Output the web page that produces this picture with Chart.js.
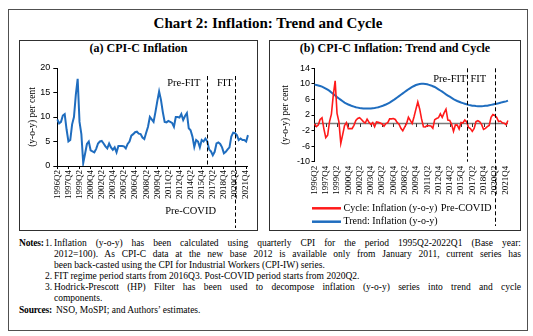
<!DOCTYPE html>
<html>
<head>
<meta charset="utf-8">
<script src="https://cdn.jsdelivr.net/npm/chart.js@4.4.1/dist/chart.umd.min.js"></script>
<style>
  html, body { margin:0; padding:0; background:#fff; }
  body { width:533px; height:336px; position:relative; overflow:hidden;
         font-family:"Liberation Serif","Times New Roman",serif; color:#000; }
  .abs { position:absolute; }
  #frame { left:8px; top:9px; width:520px; height:322px; border:1px solid #505050; box-sizing:border-box; }
  #title { left:8px; top:14px; width:520px; text-align:center; font-weight:bold; font-size:15px; line-height:18px; }
  .panel { top:40px; height:191px; border:1px solid #303030; box-sizing:border-box; }
  #panelA { left:19px; width:239px; }
  #panelB { left:269px; width:252px; }
  .ptitle { top:41px; font-weight:bold; font-size:12px; line-height:14px; text-align:center; }
  #ptitleA { left:19px; width:239px; }
  #ptitleB { left:269px; width:252px; }
  canvas { position:absolute; }
  #notes { left:19px; top:238px; width:502px; font-size:9.5px; line-height:11.1px; }
  .ln { position:relative; height:11.1px; }
  .ln .lab { position:absolute; left:0; top:0; font-weight:bold; white-space:nowrap; letter-spacing:-0.2px; }
  .ln .num { position:absolute; left:26px; top:0; }
  .ln .txt { position:absolute; left:35px; top:0; width:467px; white-space:nowrap; }
  .ln .just { white-space:normal; text-align:justify; text-align-last:justify; }
</style>
</head>
<body>
<div id="frame" class="abs"></div>
<div id="title" class="abs">Chart 2: Inflation: Trend and Cycle</div>

<div id="panelA" class="abs panel"></div>
<div id="panelB" class="abs panel"></div>
<div id="ptitleA" class="abs ptitle">(a) CPI-C Inflation</div>
<div id="ptitleB" class="abs ptitle">(b) CPI-C Inflation: Trend and Cycle</div>

<canvas id="chartA" width="239" height="190" style="left:19px;top:41px;width:239px;height:190px"></canvas>
<canvas id="chartB" width="252" height="190" style="left:269px;top:41px;width:252px;height:190px"></canvas>

<div id="notes" class="abs">
  <div class="ln"><span class="lab">Notes:</span><span class="num">1.</span><span class="txt just">Inflation (y-o-y) has been calculated using quarterly CPI for the period 1995Q2-2022Q1 (Base year:</span></div>
  <div class="ln"><span class="txt just">2012=100). As CPI-C data at the new base 2012 is available only from January 2011, current series has</span></div>
  <div class="ln"><span class="txt">been back-casted using the CPI for Industrial Workers (CPI-IW) series.</span></div>
  <div class="ln"><span class="num">2.</span><span class="txt">FIT regime period starts from 2016Q3. Post-COVID period starts from 2020Q2.</span></div>
  <div class="ln"><span class="num">3.</span><span class="txt just">Hodrick-Prescott (HP) Filter has been used to decompose inflation (y-o-y) series into trend and cycle</span></div>
  <div class="ln"><span class="txt">components.</span></div>
  <div class="ln"><span class="lab">Sources:</span><span class="txt" style="left:37px">NSO, MoSPI; and Authors’ estimates.</span></div>
</div>

<script>
// Quarterly periods, 1996Q2 to 2022Q1
const quarters = [];
for (let yr = 1996; yr <= 2022; yr++) {
  for (let q = 1; q <= 4; q++) {
    if ((yr === 1996 && q < 2) || (yr === 2022 && q > 1)) continue;
    quarters.push(yr + 'Q' + q);
  }
}

// Labels shown on the x axes
const tickLabels = ['1996Q2','1997Q4','1999Q2','2000Q4','2002Q2','2003Q4','2005Q2','2006Q4',
  '2008Q2','2009Q4','2011Q2','2012Q4','2014Q2','2015Q4','2017Q2','2018Q4','2020Q2','2021Q4'];

// Regime boundaries
const FIT_START = '2016Q3';
const COVID_START = '2020Q2';

// CPI-C inflation, y-o-y per cent
const cpiInflation = [
  9.5, 8.7, 9.0, 10.3, 10.6, 7.5, 5.0, 5.3, 8.5, 10.0,
  14.5, 17.8, 9.0, 6.5, 0.6, 2.5, 4.5, 5.0, 3.2, 3.0,
  2.8, 3.5, 4.6, 5.0, 5.1, 4.6, 4.0, 3.6, 4.6, 3.8,
  3.3, 3.8, 2.8, 4.1, 4.1, 4.1, 4.0, 3.6, 4.5, 5.0,
  6.2, 6.5, 6.9, 7.0, 6.6, 6.5, 5.8, 5.5, 6.8, 8.0,
  10.0, 9.5, 9.0, 11.0, 13.2, 15.2, 13.5, 11.0, 9.0, 8.9,
  9.2, 9.0, 8.8, 8.0, 10.0, 10.0, 9.9, 10.6, 9.4, 10.2,
  10.8, 7.7, 7.3, 6.0, 3.9, 5.3, 5.0, 3.8, 5.3, 5.0,
  5.6, 5.0, 3.4, 3.0, 2.2, 2.9, 4.6, 4.8, 4.5, 3.8,
  2.6, 2.9, 3.4, 3.8, 6.0, 6.8, 6.7, 6.3, 5.3, 5.6,
  5.3, 5.3, 5.0, 6.3
];

// HP-filter trend of inflation
const trendInflation = [
  9.8, 9.7, 9.6, 9.45, 9.3, 9.05, 8.8, 8.5, 8.2, 7.8,
  7.4, 7.0, 6.6, 6.25, 5.9, 5.55, 5.2, 4.95, 4.7, 4.5,
  4.3, 4.15, 4.0, 3.9, 3.8, 3.75, 3.7, 3.67, 3.65, 3.67,
  3.7, 3.75, 3.8, 3.9, 4.0, 4.15, 4.3, 4.5, 4.7, 4.95,
  5.2, 5.5, 5.8, 6.15, 6.5, 6.85, 7.2, 7.55, 7.9, 8.25,
  8.6, 8.9, 9.2, 9.45, 9.7, 9.85, 9.95, 10.0, 10.0, 9.97,
  9.9, 9.75, 9.6, 9.4, 9.2, 8.9, 8.6, 8.3, 8.0, 7.65,
  7.3, 7.0, 6.7, 6.4, 6.1, 5.85, 5.6, 5.4, 5.2, 5.05,
  4.9, 4.75, 4.6, 4.5, 4.4, 4.35, 4.3, 4.27, 4.25, 4.27,
  4.3, 4.35, 4.4, 4.5, 4.6, 4.7, 4.8, 4.9, 5.0, 5.15,
  5.3, 5.4, 5.5, 5.7
];

// HP-filter cycle of inflation
const cycleInflation = [
  -0.3, -1.0, -0.6, 0.85, 1.3, -1.55, -3.8, -3.2, 0.3, 2.2,
  7.1, 10.8, 2.4, 0.25, -5.3, -3.05, -0.7, 0.05, -1.5, -1.5,
  -1.5, -0.65, 0.6, 1.1, 1.3, 0.85, 0.3, -0.07, 0.95, 0.13,
  -0.4, 0.05, -1.0, 0.2, 0.1, -0.05, -0.3, -0.9, -0.2, 0.05,
  1.0, 1.0, 1.1, 0.85, 0.1, -0.35, -1.4, -2.05, -1.1, -0.25,
  1.4, 0.6, -0.2, 1.55, 3.5, 5.35, 3.55, 1.0, -1.0, -1.07,
  -0.7, -0.75, -0.8, -1.4, 0.8, 1.1, 1.3, 2.3, 1.4, 2.55,
  3.5, 0.7, 0.6, -0.4, -2.2, -0.55, -0.6, -1.6, 0.1, -0.05,
  0.7, 0.25, -1.2, -1.5, -2.2, -1.45, 0.3, 0.53, 0.25, -0.47,
  -1.7, -1.45, -1.0, -0.7, 1.4, 2.1, 1.9, 1.4, 0.3, 0.45,
  0.0, -0.1, -0.5, 0.6
];

const SERIF = '"Liberation Serif", "Times New Roman", serif';
const SANS = '"Liberation Sans", Arial, sans-serif';
const BLUE = '#1F6DBF';
const RED = '#FF1A1A';

// Shows only the selected period labels (and their tick marks)
const periodTick = (v, i) => tickLabels.includes(quarters[i]) ? quarters[i] : null;

// Dashed regime boundaries with their captions
const regimeMarks = {
  id: 'regimeMarks',
  afterDatasetsDraw(chart, args, o) {
    const {ctx, chartArea: a, scales: {x}} = chart;
    const fx = Math.round(x.getPixelForValue(quarters.indexOf(FIT_START))) + 0.5;
    const cx = Math.round(x.getPixelForValue(quarters.indexOf(COVID_START))) + 0.5;
    ctx.save();
    ctx.strokeStyle = '#000';
    ctx.lineWidth = 1;
    ctx.setLineDash([4, 2.5]);
    ctx.beginPath();
    ctx.moveTo(fx, a.top + o.top); ctx.lineTo(fx, a.bottom);
    ctx.moveTo(cx, a.top + o.top); ctx.lineTo(cx, o.covidBottom);
    ctx.stroke();
    ctx.setLineDash([]);
    ctx.fillStyle = '#000';
    ctx.font = o.size + 'px ' + SERIF;
    ctx.textBaseline = 'middle';
    ctx.textAlign = 'right';
    ctx.fillText('Pre-FIT', fx + o.preFitDx, a.top + o.labelDy);
    ctx.textAlign = 'left';
    ctx.fillText('FIT', fx + o.fitDx, a.top + o.labelDy);
    ctx.textAlign = 'right';
    ctx.fillText('Pre-COVID', cx + o.preCovidDx, o.preCovidY);
    ctx.restore();
  }
};

// Horizontal zero axis with period tick marks
const zeroAxis = {
  id: 'zeroAxis',
  beforeDatasetsDraw(chart) {
    const {ctx, chartArea: a, scales: {x, y}} = chart;
    const y0 = Math.round(y.getPixelForValue(0)) + 0.5;
    ctx.save();
    ctx.strokeStyle = '#7A7A7A';
    ctx.lineWidth = 1.5;
    ctx.beginPath(); ctx.moveTo(a.left, y0); ctx.lineTo(a.right, y0); ctx.stroke();
    ctx.strokeStyle = '#333';
    ctx.lineWidth = 1;
    ctx.beginPath();
    tickLabels.forEach(t => {
      const px = Math.round(x.getPixelForValue(quarters.indexOf(t))) + 0.5;
      ctx.moveTo(px, y0); ctx.lineTo(px, y0 + 3.5);
    });
    ctx.stroke();
    ctx.restore();
  }
};

// Line-sample legend stacked in rows
const lineLegend = {
  id: 'lineLegend',
  afterDraw(chart, args, o) {
    const {ctx, chartArea: a} = chart;
    ctx.save();
    ctx.font = o.size + 'px ' + SERIF;
    ctx.textBaseline = 'middle';
    ctx.textAlign = 'left';
    ctx.fillStyle = '#000';
    chart.data.datasets.forEach((ds, i) => {
      const yy = o.y + i * o.rowGap;
      const x0 = a.left + o.dx;
      ctx.strokeStyle = ds.borderColor;
      ctx.lineWidth = 2.5;
      ctx.beginPath(); ctx.moveTo(x0, yy); ctx.lineTo(x0 + o.swatch, yy); ctx.stroke();
      ctx.fillText(ds.label, x0 + o.swatch + o.gap, yy);
    });
    ctx.restore();
  }
};

const axisTitle = {display: true, text: '(y-o-y) per cent', color: '#000',
  font: {family: SERIF, size: 9.5}};

// (a) CPI-C inflation
new Chart(document.getElementById('chartA'), {
  type: 'line',
  data: {
    labels: quarters,
    datasets: [{
      label: 'CPI-C Inflation', data: cpiInflation,
      borderColor: BLUE, borderWidth: 2, pointRadius: 0, tension: 0, fill: false
    }]
  },
  options: {
    responsive: false, animation: false, devicePixelRatio: 1,
    layout: {padding: {top: 27, right: 7.3, bottom: 0, left: 0}},
    plugins: {
      legend: {display: false}, tooltip: {enabled: false},
      regimeMarks: {top: 8, covidBottom: 187, labelDy: 15, size: 10.5,
        preFitDx: -7, fitDx: 9.5, preCovidDx: -19.5, preCovidY: 170}
    },
    scales: {
      x: {
        offset: false,
        grid: {drawOnChartArea: false, tickLength: 3, color: '#000'},
        border: {color: '#000'},
        ticks: {autoSkip: false, minRotation: 90, maxRotation: 90, padding: 1,
          color: '#000', font: {family: SERIF, size: 9}, callback: periodTick},
        afterFit: s => { s.height = 65; }
      },
      y: {
        min: 0, max: 20,
        grid: {drawOnChartArea: false, tickLength: 4, color: '#000'},
        border: {color: '#000'},
        ticks: {stepSize: 5, padding: 3, color: '#000', font: {family: SANS, size: 9}},
        title: Object.assign({}, axisTitle, {padding: {top: 7.8, bottom: 0}}),
        afterFit: s => { s.width = 38.3; }
      }
    }
  },
  plugins: [regimeMarks]
});

// (b) CPI-C inflation: trend and cycle
new Chart(document.getElementById('chartB'), {
  type: 'line',
  data: {
    labels: quarters,
    datasets: [
      {label: 'Cycle: Inflation (y-o-y)', data: cycleInflation,
        borderColor: RED, borderWidth: 1.6, pointRadius: 0, tension: 0, fill: false},
      {label: 'Trend: Inflation (y-o-y)', data: trendInflation,
        borderColor: BLUE, borderWidth: 2, pointRadius: 0, tension: 0, fill: false}
    ]
  },
  options: {
    responsive: false, animation: false, devicePixelRatio: 1,
    layout: {padding: {top: 27.3, right: 12, bottom: 0, left: 0}},
    plugins: {
      legend: {display: false}, tooltip: {enabled: false},
      regimeMarks: {top: 0, covidBottom: 185, labelDy: 10.7, size: 10.5,
        preFitDx: -1, fitDx: 3, preCovidDx: -4, preCovidY: 167.3},
      lineLegend: {y: 167.3, rowGap: 13.4, dx: -2.5, swatch: 29, gap: 2.5, size: 10}
    },
    scales: {
      x: {
        offset: false,
        grid: {display: false, drawTicks: false},
        border: {display: false},
        ticks: {autoSkip: false, minRotation: 90, maxRotation: 90, padding: 4,
          color: '#000', font: {family: SERIF, size: 9}, callback: periodTick},
        afterFit: s => { s.height = 69.3; }
      },
      y: {
        min: -10, max: 14,
        grid: {drawOnChartArea: false, tickLength: 3, color: '#000'},
        border: {color: '#000'},
        ticks: {stepSize: 4, padding: 1.5, color: '#000', font: {family: SANS, size: 9}},
        title: Object.assign({}, axisTitle, {padding: {top: 10.3, bottom: 0}}),
        afterFit: s => { s.width = 45.5; }
      }
    }
  },
  plugins: [zeroAxis, regimeMarks, lineLegend]
});
</script>
</body>
</html>
